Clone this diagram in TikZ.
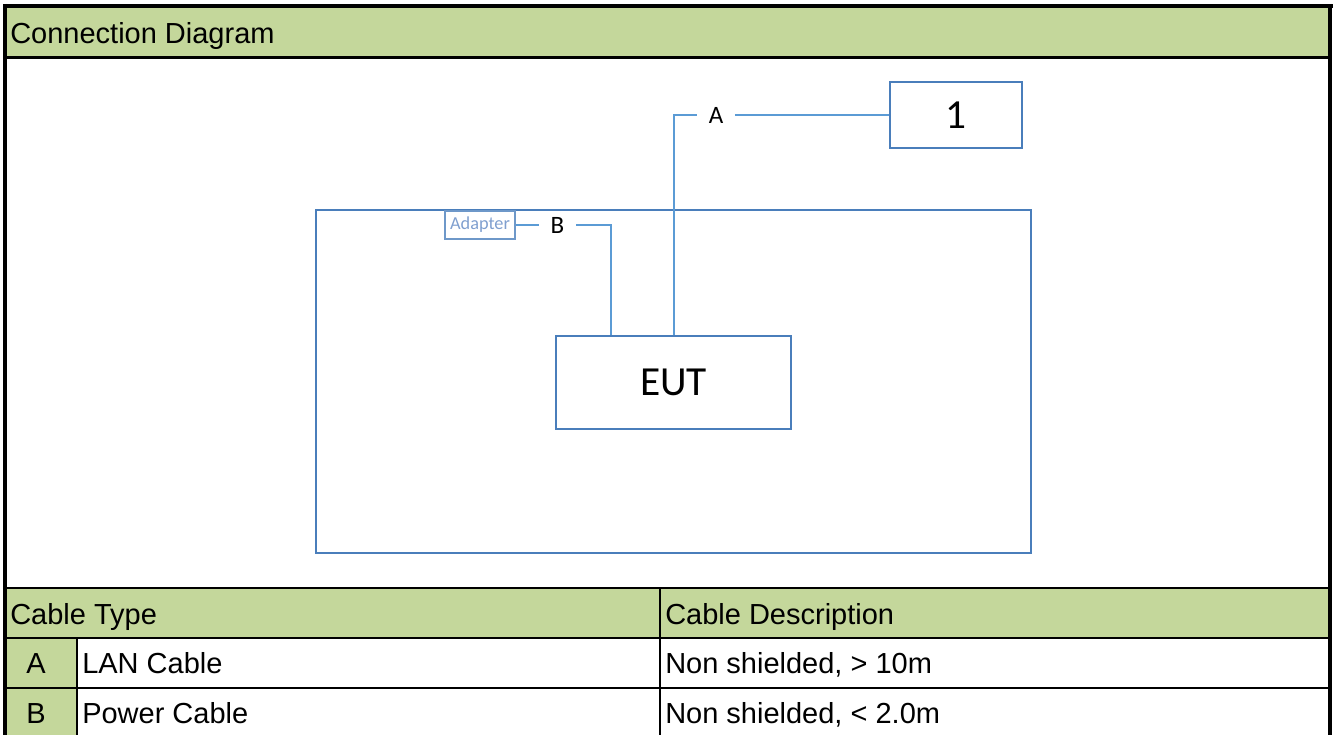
\documentclass[tikz,border=0pt]{standalone}
\usepackage{fontspec}
\setmainfont{Liberation Sans}
\newfontfamily\calibri{Carlito}
\definecolor{hdrgreen}{RGB}{196,215,155}
\definecolor{boxblue}{RGB}{74,126,187}
\definecolor{cableblue}{RGB}{91,155,213}
\definecolor{adapterblue}{RGB}{127,159,207}

\begin{document}
\begin{tikzpicture}[x=0.75pt,y=-0.75pt,
		cell/.style={anchor=base west,inner sep=0pt,font=\fontsize{21.75}{26}\selectfont},
		unit/.style={draw=boxblue,line width=1.8pt,inner sep=0pt,font=\calibri\fontsize{31}{36}\selectfont},
		cable/.style={draw=cableblue,line width=1.5pt},
		cablelabel/.style={inner xsep=8.6pt,inner ysep=0pt,font=\calibri\fontsize{18.75}{22}\selectfont},
		rule/.style={draw=black,line width=#1}]

				\useasboundingbox (0,0) rectangle (1337,735);

				% table background
				\fill[hdrgreen] (5,6) rectangle (1331,57.5);
				\fill[hdrgreen] (5,588) rectangle (1331,638);
				\fill[hdrgreen] (5,638) rectangle (77,735);

				\draw[rule=3pt] (5.3,4) -- (5.3,735);
				\draw[rule=3pt] (3,6) -- (1332.5,6);
				\draw[rule=3pt] (1330.3,4) -- (1330.3,735);
				\draw[rule=2.4pt] (5,57.5) -- (1331,57.5);
				\draw[rule=2pt] (5,588) -- (1331,588);
				\draw[rule=1.6pt] (5,637.7) -- (1331,637.7);
				\draw[rule=2pt] (5,688) -- (1331,688);
				\draw[rule=1.5pt] (77,637.7) -- (77,735);
				\draw[rule=1.5pt] (660,588) -- (660,735);

				% texts of the table
				\node[cell] (title) at (10,43.5) {Connection Diagram};
				\node[cell] (typehead) at (10,624.5) {Cable Type};
				\node[cell] (deschead) at (665,624.5) {Cable Description};

				\node[cell,anchor=base] (rowA) at (36,673.5) {A};
				\node[cell] (typeA) at (82,673.5) {LAN Cable};
				\node[cell] (descA) at (665,673.5) {Non shielded, > 10m};

				\node[cell,anchor=base] (rowB) at (36,723) {B};
				\node[cell] (typeB) at (82,723) {Power Cable};
				\node[cell] (descB) at (665,723) {Non shielded, < 2.0m};

				% test set-up
				\node[unit,minimum width=536.25pt,minimum height=257.25pt] (table) at (673.5,381.5) {};
				\node[unit,minimum width=176.25pt,minimum height=69.75pt] (eut) at (673.5,382.5) {EUT};
				\node[unit,minimum width=99pt,minimum height=49.5pt] (one) at (956,115) {1};
				\node[draw=boxblue!80,line width=1.4pt,inner sep=0pt,minimum width=52.5pt,minimum height=21pt,
					text=adapterblue,font=\calibri\fontsize{13.7}{16}\selectfont] (adapter) at (480,225) {Adapter};

				\node[cablelabel] (labA) at (716,115) {A};
				\node[cablelabel] (labB) at (557.5,225) {B};

				\coordinate (portB) at ([xshift=42pt]eut.north west);

				\draw[cable] (eut.north) |- (labA);
				\draw[cable] (labA) -- (one);
				\draw[cable] (portB) |- (labB);
				\draw[cable] (labB) -- (adapter);

			\end{tikzpicture}
\end{document}
